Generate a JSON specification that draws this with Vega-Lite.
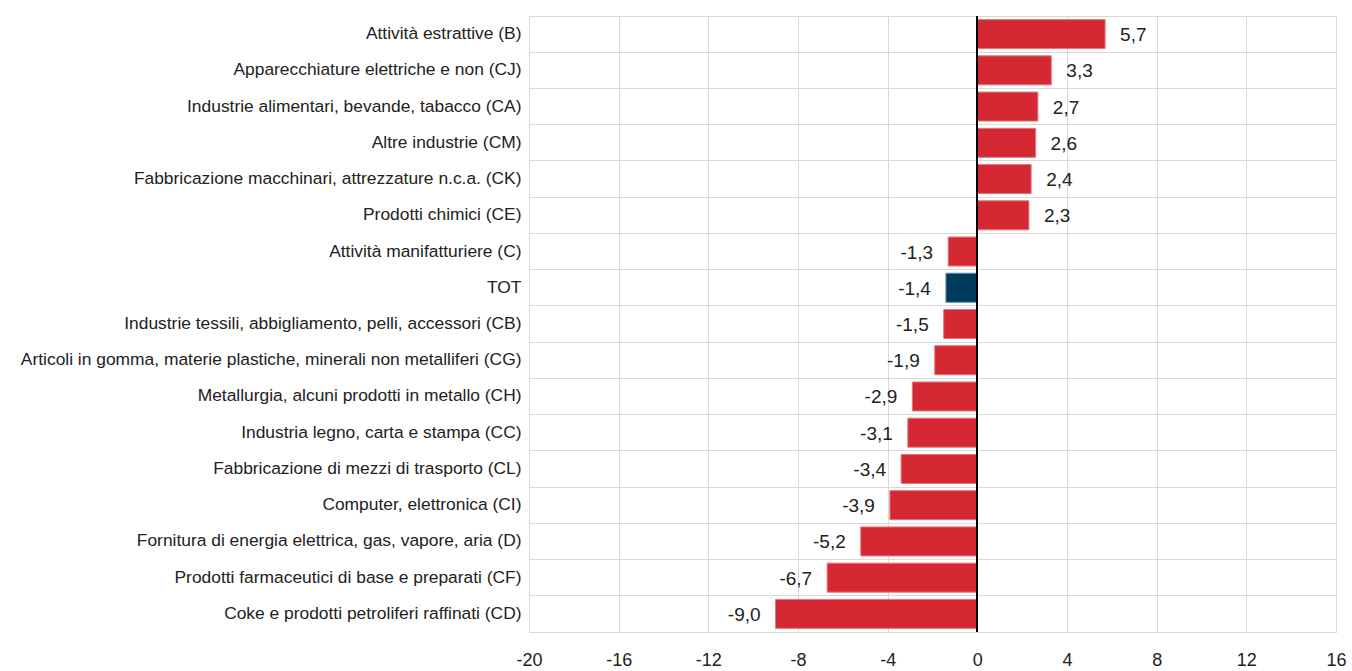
{
  "$schema": "https://vega.github.io/schema/vega-lite/v6.json",
  "autosize": {"type": "none"},
  "padding": {"left": 529, "top": 16, "right": 16, "bottom": 39},
  "width": 807,
  "height": 616,
  "background": "white",
  "config": {
    "locale": {"number": {"decimal": ",", "thousands": ".", "grouping": [3], "currency": ["", "€"], "minus": "-"}},
    "view": {"stroke": "#d9d9d9", "strokeWidth": 1},
    "font": "Liberation Sans"
  },
  "data": {
    "values": [
      {"settore": "Attività estrattive (B)", "valore": 5.7, "tipo": "s"},
      {"settore": "Apparecchiature elettriche e non (CJ)", "valore": 3.3, "tipo": "s"},
      {"settore": "Industrie alimentari, bevande, tabacco (CA)", "valore": 2.7, "tipo": "s"},
      {"settore": "Altre industrie (CM)", "valore": 2.6, "tipo": "s"},
      {"settore": "Fabbricazione macchinari, attrezzature n.c.a. (CK)", "valore": 2.4, "tipo": "s"},
      {"settore": "Prodotti chimici (CE)", "valore": 2.3, "tipo": "s"},
      {"settore": "Attività manifatturiere (C)", "valore": -1.3, "tipo": "s"},
      {"settore": "TOT", "valore": -1.4, "tipo": "t"},
      {"settore": "Industrie tessili, abbigliamento, pelli, accessori (CB)", "valore": -1.5, "tipo": "s"},
      {"settore": "Articoli in gomma, materie plastiche, minerali non metalliferi (CG)", "valore": -1.9, "tipo": "s"},
      {"settore": "Metallurgia, alcuni prodotti in metallo (CH)", "valore": -2.9, "tipo": "s"},
      {"settore": "Industria legno, carta e stampa (CC)", "valore": -3.1, "tipo": "s"},
      {"settore": "Fabbricazione di mezzi di trasporto (CL)", "valore": -3.4, "tipo": "s"},
      {"settore": "Computer, elettronica (CI)", "valore": -3.9, "tipo": "s"},
      {"settore": "Fornitura di energia elettrica, gas, vapore, aria (D)", "valore": -5.2, "tipo": "s"},
      {"settore": "Prodotti farmaceutici di base e preparati (CF)", "valore": -6.7, "tipo": "s"},
      {"settore": "Coke e prodotti petroliferi raffinati (CD)", "valore": -9.0, "tipo": "s"}
    ]
  },
  "encoding": {
    "y": {
      "field": "settore", "type": "nominal", "sort": null,
      "scale": {"paddingInner": 0, "paddingOuter": 0},
      "axis": {
        "title": null, "ticks": false, "domain": false, "grid": true, "bandPosition": 0,
        "gridColor": "#d9d9d9", "labelFontSize": 17.4, "labelColor": "#222222",
        "labelPadding": 8, "labelLimit": 600, "labelFont": "Liberation Sans"
      }
    },
    "x": {
      "field": "valore", "type": "quantitative",
      "scale": {"domain": [-20, 16], "nice": false, "zero": false},
      "axis": {
        "title": null, "values": [-20, -16, -12, -8, -4, 0, 4, 8, 12, 16],
        "ticks": false, "domain": false, "grid": true, "gridColor": "#d9d9d9",
        "labelFontSize": 18, "labelColor": "#222222", "labelPadding": 19,
        "labelFlush": false, "labelOverlap": false,
        "format": "d", "labelFont": "Liberation Sans"
      }
    }
  },
  "layer": [
    {
      "mark": {"type": "bar", "height": {"band": 0.8}, "strokeWidth": 1},
      "encoding": {
        "color": {
          "field": "tipo", "type": "nominal",
          "scale": {"domain": ["s", "t"], "range": ["#d42832", "#003a5c"]},
          "legend": null
        },
        "stroke": {
          "field": "tipo", "type": "nominal",
          "scale": {"domain": ["s", "t"], "range": ["#e8747a", "#5a86b0"]},
          "legend": null
        }
      }
    },
    {
      "mark": {"type": "rule", "color": "#000000", "strokeWidth": 1.2},
      "encoding": {"x": {"datum": 0}, "y": null}
    },
    {
      "transform": [{"filter": "datum.valore >= 0"}],
      "mark": {"type": "text", "align": "left", "baseline": "middle", "dx": 15, "dy": 1, "fontSize": 19, "color": "#222222", "font": "Liberation Sans"},
      "encoding": {"text": {"field": "valore", "type": "quantitative", "format": ".1f"}}
    },
    {
      "transform": [{"filter": "datum.valore < 0"}],
      "mark": {"type": "text", "align": "right", "baseline": "middle", "dx": -15, "dy": 1, "fontSize": 19, "color": "#222222", "font": "Liberation Sans"},
      "encoding": {"text": {"field": "valore", "type": "quantitative", "format": ".1f"}}
    }
  ]
}
